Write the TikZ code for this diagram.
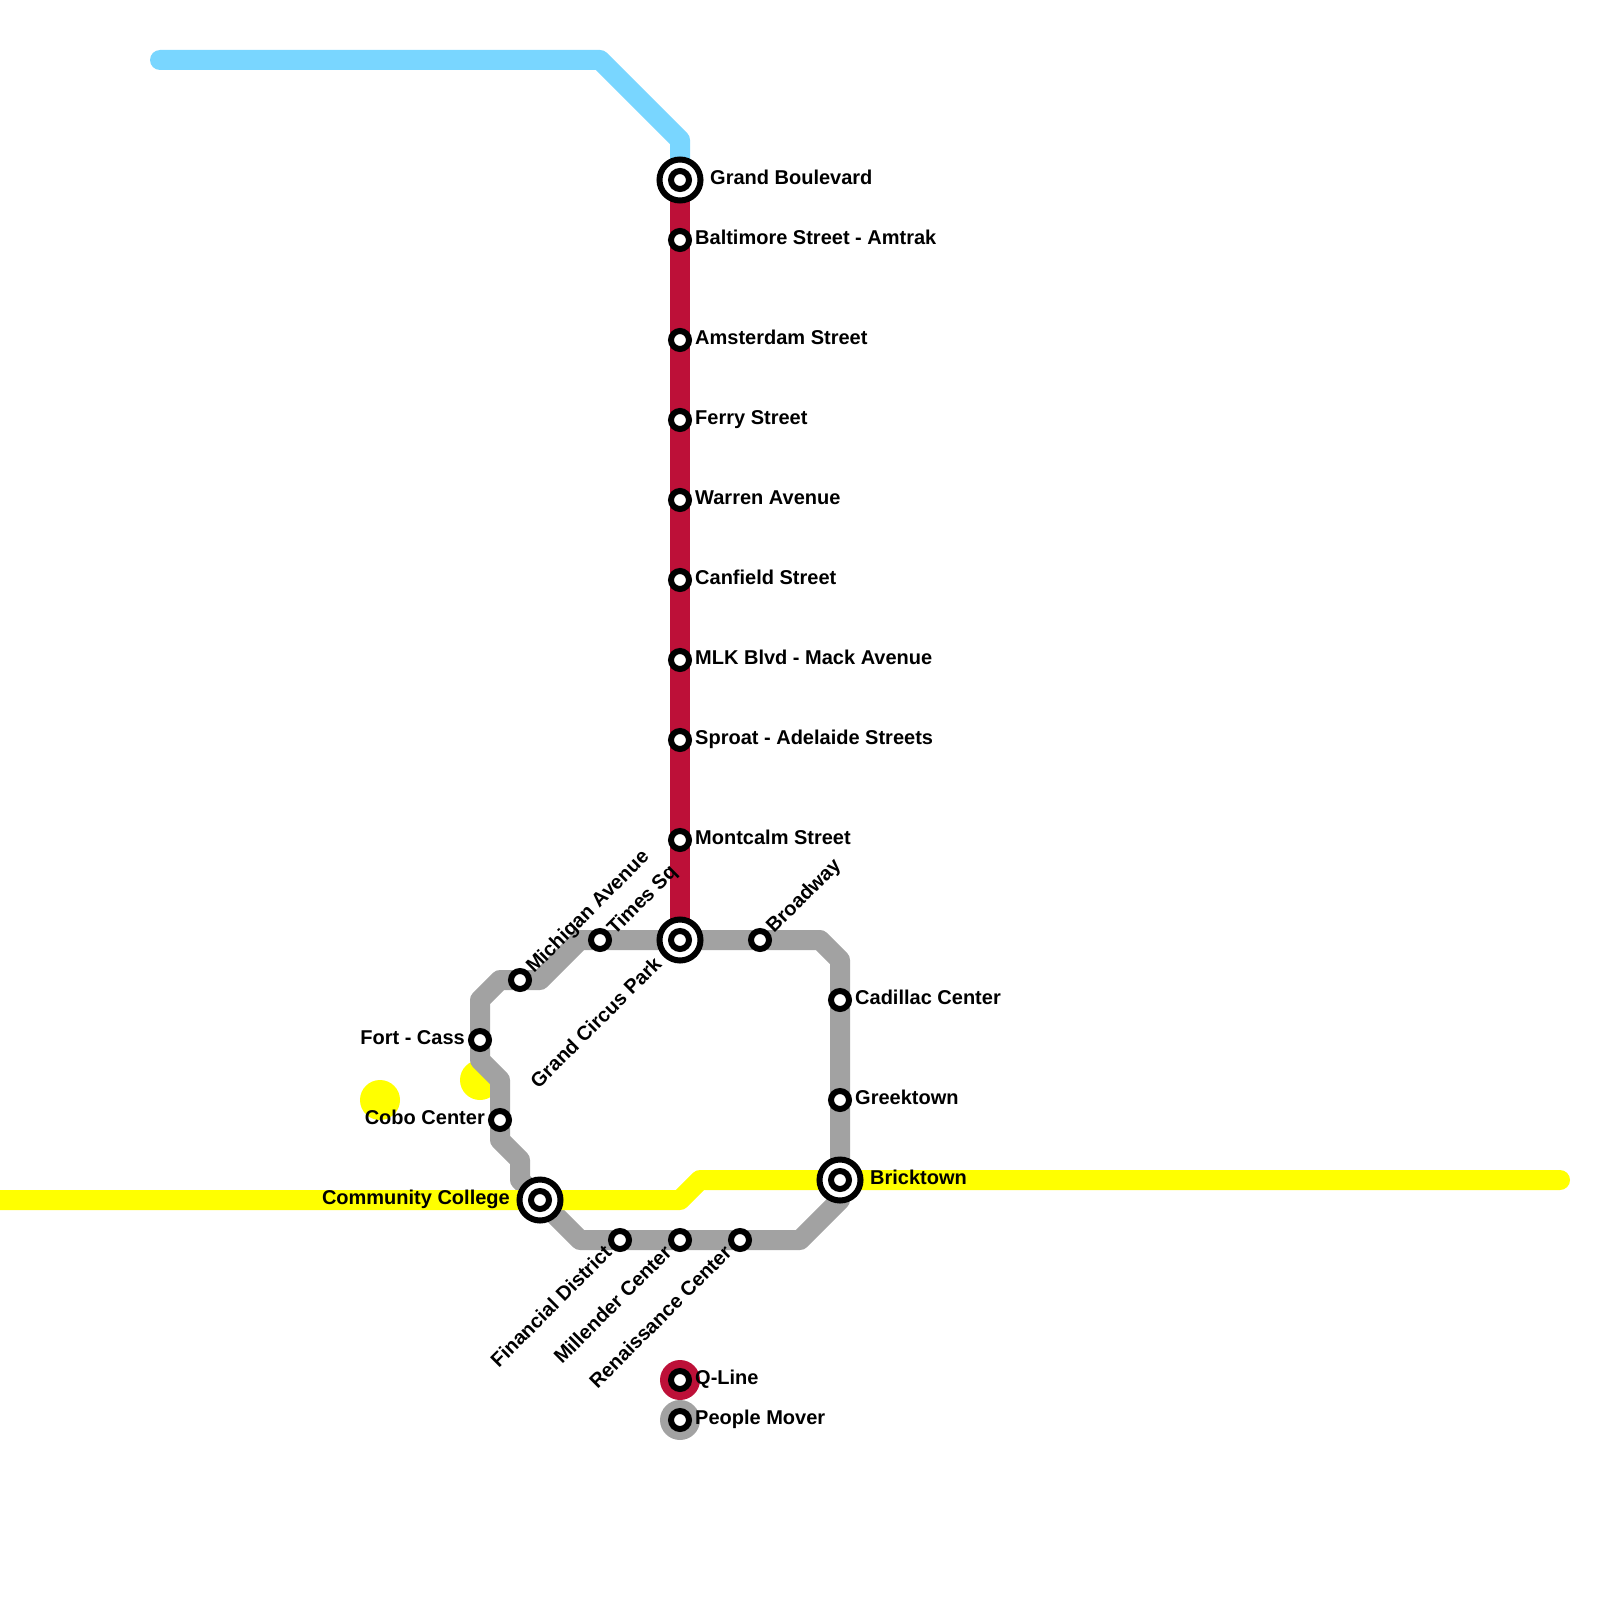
\documentclass[tikz,border=0pt]{standalone}
\usepackage{fontspec}
\setmainfont{Liberation Sans}
\definecolor{qred}{HTML}{BD1038}
\definecolor{qgrey}{HTML}{A2A2A2}
\definecolor{qblue}{HTML}{79D6FF}
\definecolor{qyel}{HTML}{FFFF00}
\tikzset{
  x=1pt,y=-1pt,
  metro/.style={line width=20pt,line join=round,line cap=round},
  stn/.style={circle,draw=black,fill=white,line width=6pt,minimum size=18pt,inner sep=0pt},
  hub/.style={circle,draw=black,fill=white,line width=6pt,minimum size=41pt,inner sep=0pt},
  lbl/.style={inner sep=0pt,font=\bfseries\fontsize{20}{24}\selectfont,text=black},
  dot/.style={circle,minimum size=40pt,inner sep=0pt},
}
\begin{document}
\begin{tikzpicture}
\path[use as bounding box] (0,0) rectangle (1600,1600);
\clip (0,0) rectangle (1600,1600);
% track bends
\coordinate (b1) at (160,60);
\coordinate (b2) at (600,60);
\coordinate (b3) at (680,140);
\coordinate (gb) at (680,180);
\coordinate (gc) at (680,940);
\coordinate (c1) at (820,940);
\coordinate (c2) at (840,960);
\coordinate (c2b) at (840,1200);
\coordinate (bt) at (840,1180);
\coordinate (c3) at (800,1240);
\coordinate (c4) at (580,1240);
\coordinate (cc) at (540,1200);
\coordinate (c5) at (520,1180);
\coordinate (c6) at (520,1160);
\coordinate (c7) at (500,1140);
\coordinate (c8) at (500,1080);
\coordinate (c9) at (480,1060);
\coordinate (c10) at (480,1000);
\coordinate (c11) at (500,980);
\coordinate (c12) at (540,980);
\coordinate (c13) at (580,940);
\coordinate (y0) at (0,1200);
\coordinate (y1) at (680,1200);
\coordinate (y2) at (700,1180);
\coordinate (y3) at (1560,1180);
% termini dots
\node[dot,fill=qyel] (d1) at (380,1100) {};
\node[dot,fill=qyel] (d2) at (480,1080) {};
% lines
\draw[metro,qblue] (b1) -- (b2) -- (b3) -- (gb);
\draw[metro,qred,line cap=butt] (gb) -- (gc);
\draw[metro,qgrey] (gc) -- (c1) -- (c2) -- (c2b) -- (c3) -- (c4) -- (cc) -- (c5) -- (c6) -- (c7) -- (c8) -- (c9) -- (c10) -- (c11) -- (c12) -- (c13) -- cycle;
\draw[metro,qyel] (y0) -- (y1) -- (y2) -- (y3);
% legend discs
\node[dot,fill=qred] (lq) at (680,1380) {};
\node[dot,fill=qgrey] (lp) at (680,1420) {};
% hubs
\node[hub] (hgb) at (gb) {}; \node[stn] (igb) at (gb) {};
\node[hub] (hgc) at (gc) {}; \node[stn] (igc) at (gc) {};
\node[hub] (hbt) at (bt) {}; \node[stn] (ibt) at (bt) {};
\node[hub] (hcc) at (cc) {}; \node[stn] (icc) at (cc) {};
% stations
\foreach \n/\y in {s1/240,s2/340,s3/420,s4/500,s5/580,s6/660,s7/740,s8/840}
  \node[stn] (\n) at (680,\y) {};
\node[stn] (sbw) at (760,940) {};
\node[stn] (sca) at (840,1000) {};
\node[stn] (sgr) at (840,1100) {};
\node[stn] (sfd) at (620,1240) {};
\node[stn] (smc) at (680,1240) {};
\node[stn] (src) at (740,1240) {};
\node[stn] (sco) at (500,1120) {};
\node[stn] (sfc) at (480,1040) {};
\node[stn] (smi) at (520,980) {};
\node[stn] (sts) at (600,940) {};
\node[stn] (lq2) at (680,1380) {};
\node[stn] (lp2) at (680,1420) {};
% labels
\node[lbl,anchor=base west] (t0) at (710,184.3) {Grand Boulevard};
\node[lbl,anchor=base west] (t1) at (695,244.5) {Baltimore Street - Amtrak};
\node[lbl,anchor=base west] (t2) at (695,344.5) {Amsterdam Street};
\node[lbl,anchor=base west] (t3) at (695,424.5) {Ferry Street};
\node[lbl,anchor=base west] (t4) at (695,504.5) {Warren Avenue};
\node[lbl,anchor=base west] (t5) at (695,584.5) {Canfield Street};
\node[lbl,anchor=base west] (t6) at (695,664.5) {MLK Blvd - Mack Avenue};
\node[lbl,anchor=base west] (t7) at (695,744.5) {Sproat - Adelaide Streets};
\node[lbl,anchor=base west] (t8) at (695,844.5) {Montcalm Street};
\node[lbl,anchor=base west] (t9) at (855,1004.5) {Cadillac Center};
\node[lbl,anchor=base west] (t10) at (855,1104.5) {Greektown};
\node[lbl,anchor=base west] (t11) at (870,1184.5) {Bricktown};
\node[lbl,anchor=base west] (t12) at (695,1384.5) {Q-Line};
\node[lbl,anchor=base west] (t13) at (695,1424.5) {People Mover};
\node[lbl,anchor=base east] (t14) at (465,1044.5) {Fort - Cass};
\node[lbl,anchor=base east] (t15) at (485,1124.5) {Cobo Center};
\node[lbl,anchor=base east] (t16) at (510,1204.5) {Community College};
\node[lbl,anchor=base west,rotate=45] (t17) at (534,974) {Michigan Avenue};
\node[lbl,anchor=base west,rotate=45] (t18) at (615,936) {Times Sq};
\node[lbl,anchor=base west,rotate=45] (t19) at (774,934) {Broadway};
\node[lbl,anchor=base east,rotate=45] (t20) at (663,965) {Grand Circus Park};
\node[lbl,anchor=base east,rotate=45] (t21) at (613,1254) {Financial District};
\node[lbl,anchor=base east,rotate=45] (t22) at (673,1254) {Millender Center};
\node[lbl,anchor=base east,rotate=45] (t23) at (733,1254) {Renaissance Center};
\end{tikzpicture}
\end{document}
